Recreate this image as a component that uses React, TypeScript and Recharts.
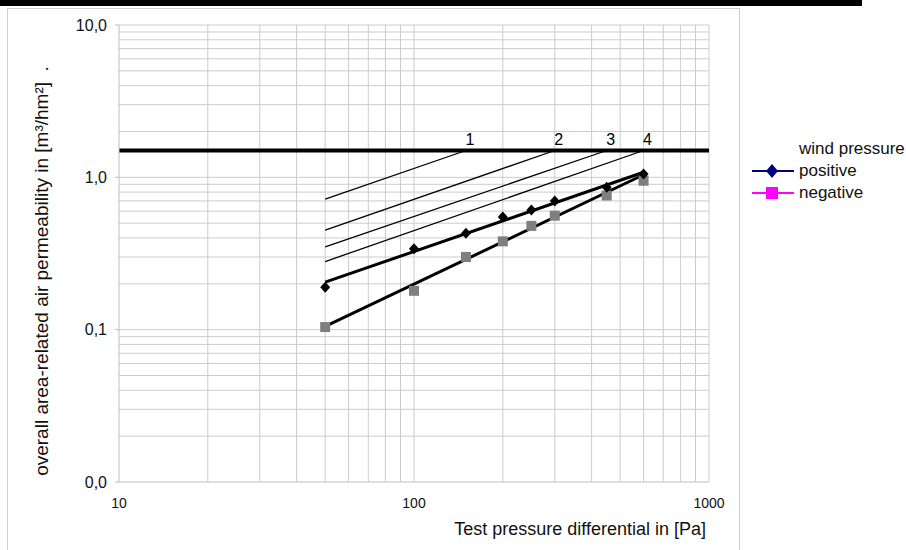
import { ComposedChart, Line, Scatter, XAxis, YAxis, ReferenceLine, LabelList } from 'recharts'

// measured points (test pressure in Pa)
const PRESSURES = [50, 100, 150, 200, 250, 300, 450, 600]
const POSITIVE = [0.19, 0.34, 0.43, 0.55, 0.61, 0.7, 0.86, 1.05]
const NEGATIVE = [0.104, 0.18, 0.3, 0.38, 0.48, 0.56, 0.76, 0.95]

// power trend lines (two ends each)
const TREND_P = [50, 600]
const POS_TREND = [0.205, 1.08]
const NEG_TREND = [0.105, 1.04]

// class limit lines 1..4
const CLASS_LIMIT = 1.5
const CLASS_NAMES = ['1', '2', '3', '4']
const CLASS_START_P = [50, 50, 50, 50]
const CLASS_START_V = [0.72, 0.45, 0.35, 0.28]
const CLASS_END_P = [150, 300, 450, 600]

const X_TICKS = [10, 100, 1000]
const Y_TICKS = [0.01, 0.1, 1, 10]
const X_GRID = [20, 30, 40, 50, 60, 70, 80, 90, 100, 200, 300, 400, 500, 600, 700, 800, 900, 1000]
const Y_GRID = [
  0.02, 0.03, 0.04, 0.05, 0.06, 0.07, 0.08, 0.09, 0.1,
  0.2, 0.3, 0.4, 0.5, 0.6, 0.7, 0.8, 0.9, 1,
  2, 3, 4, 5, 6, 7, 8, 9, 10,
]

const FONT = '"Liberation Sans", Arial, sans-serif'

const positiveData = PRESSURES.map((x, i) => ({ x, y: POSITIVE[i] }))
const negativeData = PRESSURES.map((x, i) => ({ x, y: NEGATIVE[i] }))
const posTrend = TREND_P.map((x, i) => ({ x, y: POS_TREND[i] }))
const negTrend = TREND_P.map((x, i) => ({ x, y: NEG_TREND[i] }))
const classLines = CLASS_NAMES.map((name, i) => [
  { x: CLASS_START_P[i], y: CLASS_START_V[i], label: '' },
  { x: CLASS_END_P[i], y: CLASS_LIMIT, label: name },
])

const fmtY = (v: number) => v.toFixed(1).replace('.', ',')

const Diamond = (p: any) => (
  <polygon
    points={`${p.cx},${p.cy - 5.5} ${p.cx + 5},${p.cy} ${p.cx},${p.cy + 5.5} ${p.cx - 5},${p.cy}`}
    fill="#000"
  />
)

const Square = (p: any) => <rect x={p.cx - 5} y={p.cy - 5} width={10} height={10} fill="#7f7f7f" />

const classLabel = (p: any) =>
  p.value ? (
    <text x={p.x + 4} y={p.y - 6} textAnchor="middle" fontSize={16} fontFamily={FONT} fill="#000">
      {p.value}
    </text>
  ) : null

export default function App() {
  return (
    <div style={{ position: 'absolute', left: 0, top: 0, width: 906, height: 550, background: '#fff', overflow: 'hidden', fontFamily: FONT }}>
      <div style={{ position: 'absolute', left: 0, top: 0, width: 862, height: 6, background: '#000' }} />
      <div style={{ position: 'absolute', left: 7, top: 8, width: 731, height: 600, border: '1px solid #cfcfcf' }} />

      <div style={{ position: 'absolute', left: 0, top: 0 }}>
        <ComposedChart width={906} height={550} margin={{ top: 25, right: 197, bottom: 0, left: 0 }}>
          <XAxis
            dataKey="x"
            type="number"
            scale="log"
            domain={[10, 1000]}
            ticks={X_TICKS}
            interval={0}
            allowDataOverflow
            height={68}
            tickSize={0}
            tickMargin={16}
            stroke="#bdbdbd"
            tick={{ fill: '#111', fontSize: 14, fontFamily: FONT }}
          />
          <YAxis
            dataKey="y"
            type="number"
            scale="log"
            domain={[0.01, 10]}
            ticks={Y_TICKS}
            interval={0}
            allowDataOverflow
            width={119}
            tickSize={4}
            tickMargin={8}
            tickFormatter={fmtY}
            stroke="#bdbdbd"
            tick={{ fill: '#111', fontSize: 16, fontFamily: FONT }}
          />
          {X_GRID.map((v) => (
            <ReferenceLine key={'x' + v} x={v} stroke="#cccccc" strokeWidth={1} />
          ))}
          {Y_GRID.map((v) => (
            <ReferenceLine key={'y' + v} y={v} stroke="#cccccc" strokeWidth={1} />
          ))}
          <ReferenceLine y={CLASS_LIMIT} stroke="#000" strokeWidth={4} />
          {classLines.map((d, i) => (
            <Line
              key={'c' + i}
              data={d}
              dataKey="y"
              stroke="#000"
              strokeWidth={1.3}
              dot={false}
              activeDot={false}
              isAnimationActive={false}
            >
              <LabelList dataKey="label" content={classLabel} />
            </Line>
          ))}
          <Line data={posTrend} dataKey="y" stroke="#000" strokeWidth={3} dot={false} activeDot={false} isAnimationActive={false} />
          <Line data={negTrend} dataKey="y" stroke="#000" strokeWidth={3} dot={false} activeDot={false} isAnimationActive={false} />
          <Scatter data={negativeData} dataKey="y" shape={Square} isAnimationActive={false} />
          <Scatter data={positiveData} dataKey="y" shape={Diamond} isAnimationActive={false} />
        </ComposedChart>
      </div>

      <div
        style={{
          position: 'absolute',
          left: 0,
          top: 519,
          width: 706,
          textAlign: 'right',
          fontSize: 18,
          lineHeight: '21px',
          color: '#111',
          whiteSpace: 'nowrap',
        }}
      >
        Test pressure differential in [Pa]
      </div>
      <div
        style={{
          position: 'absolute',
          left: 42,
          top: 271,
          transform: 'translate(-50%, -50%) rotate(-90deg)',
          fontSize: 19,
          lineHeight: '22px',
          color: '#111',
          whiteSpace: 'pre',
        }}
      >
        {'overall area-related air permeability in [m³/hm²]  .'}
      </div>

      <div style={{ position: 'absolute', left: 752, top: 138, fontSize: 17, lineHeight: '22px', color: '#111' }}>
        <div style={{ paddingLeft: 47 }}>wind pressure</div>
        <div style={{ display: 'flex', alignItems: 'center' }}>
          <svg width={44} height={22} style={{ marginRight: 3 }}>
            <line x1={0} y1={11} x2={42} y2={11} stroke="#000080" strokeWidth={2} />
            <polygon points="20,4 26,11 20,18 14,11" fill="#000080" />
          </svg>
          positive
        </div>
        <div style={{ display: 'flex', alignItems: 'center' }}>
          <svg width={44} height={22} style={{ marginRight: 3 }}>
            <line x1={0} y1={11} x2={42} y2={11} stroke="#ff00ff" strokeWidth={2} />
            <rect x={14} y={5} width={12} height={12} fill="#ff00ff" />
          </svg>
          negative
        </div>
      </div>
    </div>
  )
}
